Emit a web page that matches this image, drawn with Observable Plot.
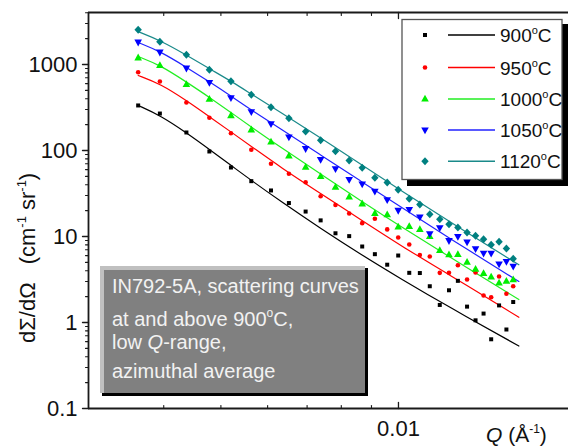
<!DOCTYPE html>
<html><head><meta charset="utf-8">
<script src="https://cdn.jsdelivr.net/npm/d3@7"></script>
<script src="https://cdn.jsdelivr.net/npm/@observablehq/plot@0.6"></script>
<style>html,body{margin:0;padding:0;background:#fff;} #chart{width:568px;height:446px;overflow:hidden;}</style>
</head><body><div id="chart"></div>
<script>
// ---------- data ----------
const Q = [0.00362, 0.00394, 0.00437, 0.00478, 0.0052, 0.00563, 0.00608, 0.00652, 0.00696, 0.00738,
           0.00782, 0.00825, 0.00868, 0.00912, 0.00957, 0.00999, 0.01043, 0.01087, 0.0113, 0.01175,
           0.01218, 0.01261, 0.01307, 0.01351, 0.01394, 0.01436, 0.01481, 0.01524, 0.01565];
const temps = ["900", "950", "1000", "1050", "1120"];
const I900  = [334, 269, 162, 97.4, 63.4, 44.0, 34.3, 24.5, 19.5, 15.4, 10.9, 10.1, 7.65, 6.23, 4.70, 6.01, 3.78, 3.76, 2.64, 1.60, 2.37, 3.05, 1.53, 1.06, 1.27, 0.638, 1.58, 0.829, 1.73];
const I950  = [814, 634, 362, 240, 159, 102, 70.0, 53.6, 42.8, 29.4, 23.2, 18.5, 14.3, 16.1, 12.1, 9.74, 8.07, 6.09, 5.85, 3.78, 3.78, 4.63, 3.16, 3.81, 2.06, 1.97, 3.43, 2.16, 2.64];
const I1000 = [1196, 974, 586, 395, 255, 174, 126, 86.3, 63.9, 49.9, 37.4, 28.9, 24.0, 18.5, 17.9, 12.9, 13.1, 12.1, 10.0, 6.87, 6.14, 6.18, 5.02, 4.16, 3.73, 3.38, 2.89, 3.02, 3.15];
const I1050 = [1817, 1390, 906, 618, 410, 282, 204, 143, 105, 78.6, 61.3, 46.0, 40.8, 33.5, 26.7, 20.1, 20.6, 16.8, 10.75, 12.6, 8.94, 10.0, 8.63, 7.19, 6.38, 6.38, 4.79, 5.12, 4.50];
const I1120 = [2532, 1837, 1297, 868, 639, 444, 319, 237, 166, 132, 98.1, 76.5, 62.9, 48.1, 42.5, 34.9, 27.4, 23.6, 18.2, 15.9, 13.9, 12.7, 11.1, 10.2, 9.30, 8.01, 8.68, 7.25, 5.51];

const Qfit = [0.00362, 0.00395, 0.00437, 0.0048, 0.00523, 0.00568, 0.00631, 0.00738, 0.00862, 0.01008, 0.01225, 0.016];
const fit900  = [334, 255, 161, 101, 65.2, 43.0, 25.7, 12.4, 6.23, 3.24, 1.48, 0.533];
const fit950  = [745, 594, 381, 242, 160, 107, 63.9, 31.6, 15.8, 7.86, 3.52, 1.15];
const fit1000 = [1239, 979, 626, 408, 269, 180, 109, 53.3, 26.2, 13.1, 5.70, 1.85];
const fit1050 = [1802, 1416, 930, 618, 419, 284, 179, 88.7, 44.2, 22.3, 9.35, 3.00];
const fit1120 = [2413, 1902, 1290, 879, 626, 436, 279, 140, 69.7, 34.3, 14.6, 4.69];

const yMajor = [0.1, 1, 10, 100, 1000];
const yMajorLabels = ["0.1", "1", "10", "100", "1000"];
const xMajor = [0.01];
const xMajorLabels = ["0.01"];
const xMinor = [0.004, 0.005, 0.006, 0.007, 0.008, 0.009];
const yMinor = [0.2,0.3,0.4,0.5,0.6,0.7,0.8,0.9, 2,3,4,5,6,7,8,9, 20,30,40,50,60,70,80,90, 200,300,400,500,600,700,800,900, 2000,3000,4000];
const xDomain = [0.002982, 0.01942];
const yDomain = [0.1, 4024];
const noteText = ["IN792-5A, scattering curves", "at and above 900", "low ", "azimuthal average"];

// ---------- styling ----------
const FONT = "'Liberation Sans', Arial, Helvetica, sans-serif";
const markerColors = ["#000000", "#ff0000", "#00ee00", "#0000ff", "#008080"];
const lineColors   = ["#000000", "#ff0000", "#22ee22", "#2222ff", "#1a8a8a"];
const AX = "#1a1a1a";

const symSquare  = {draw(c){ c.rect(-2, -2, 4, 4); }};
const symCircle  = {draw(c){ c.moveTo(2.3, 0); c.arc(0, 0, 2.3, 0, 2 * Math.PI); }};
const symUp      = {draw(c){ c.moveTo(0, -4.2); c.lineTo(3.8, 2.6); c.lineTo(-3.8, 2.6); c.closePath(); }};
const symDown    = {draw(c){ c.moveTo(0, 4.2); c.lineTo(3.8, -2.6); c.lineTo(-3.8, -2.6); c.closePath(); }};
const symDiamond = {draw(c){ c.moveTo(0, -4); c.lineTo(3.7, 0); c.lineTo(0, 4); c.lineTo(-3.7, 0); c.closePath(); }};
const syms = [symSquare, symCircle, symUp, symDown, symDiamond];

const series = [I900, I950, I1000, I1050, I1120];
const fits = [fit900, fit950, fit1000, fit1050, fit1120];
const tickShape = {draw(c, l){ c.moveTo(0, 0); c.lineTo(0, -l); }};

const marks = [];
marks.push(Plot.ruleX([xDomain[0]], {stroke: AX, strokeWidth: 1.8}));
marks.push(Plot.ruleY([yDomain[0], yDomain[1]], {stroke: AX, strokeWidth: 1.8}));
marks.push(Plot.vector(yMajor, {x: () => xDomain[0], y: d => d, length: 6, rotate: -90, anchor: "start", shape: tickShape, stroke: AX, strokeWidth: 1.3}));
marks.push(Plot.vector(yMinor, {x: () => xDomain[0], y: d => d, length: 3, rotate: -90, anchor: "start", shape: tickShape, stroke: AX, strokeWidth: 1.1}));
marks.push(Plot.vector(xMajor, {x: d => d, y: () => yDomain[0], length: 6, rotate: 0, anchor: "start", shape: tickShape, stroke: AX, strokeWidth: 1.3}));
marks.push(Plot.vector(xMinor, {x: d => d, y: () => yDomain[0], length: 3, rotate: 0, anchor: "start", shape: tickShape, stroke: AX, strokeWidth: 1.1}));
marks.push(Plot.vector(xMajor, {x: d => d, y: () => yDomain[1], length: 6, rotate: 180, anchor: "start", shape: tickShape, stroke: AX, strokeWidth: 1.3}));
marks.push(Plot.vector(xMinor, {x: d => d, y: () => yDomain[1], length: 3, rotate: 180, anchor: "start", shape: tickShape, stroke: AX, strokeWidth: 1.1}));
marks.push(Plot.text(yMajor, {x: () => xDomain[0], y: d => d, text: (d, i) => yMajorLabels[i], textAnchor: "end", dx: -11, fontSize: 22, fill: "#111"}));
marks.push(Plot.text(xMajor, {x: d => d, y: () => yDomain[0], text: (d, i) => xMajorLabels[i], textAnchor: "middle", dy: 20, fontSize: 22, fill: "#111"}));
fits.forEach((f, k) => {
  marks.push(Plot.line(Qfit.map((q, i) => ({q, v: f[i]})), {x: "q", y: "v", stroke: lineColors[k], strokeWidth: 1.2, curve: "basis"}));
});
series.forEach((s, k) => {
  marks.push(Plot.dot(Q.map((q, i) => ({q, v: s[i]})), {x: "q", y: "v", symbol: syms[k], r: 3, fill: markerColors[k], stroke: "none"}));
});

const svgEl = Plot.plot({
  width: 568, height: 446,
  marginLeft: 88, marginRight: 0, marginTop: 12, marginBottom: 38,
  x: {type: "log", domain: xDomain, axis: null},
  y: {type: "log", domain: yDomain, axis: null},
  style: {fontFamily: FONT, background: "white", overflow: "visible"},
  marks
});
document.getElementById("chart").appendChild(svgEl);

const svg = d3.select(svgEl);
function txt(parent, x, y, size) {
  return parent.append("text").attr("x", x).attr("y", y).attr("text-anchor", "start")
    .attr("font-family", FONT).attr("font-size", size).attr("fill", "#111");
}

// ---------- y axis label ----------
const yl = svg.append("text").attr("transform", "translate(35,343) rotate(-90)").attr("text-anchor", "start")
  .attr("font-family", FONT).attr("font-size", 22).attr("fill", "#111");
yl.append("tspan").text("dΣ/dΩ");
yl.append("tspan").attr("dx", 18).text("(cm");
yl.append("tspan").attr("dy", -9).attr("font-size", 13).text("-1");
yl.append("tspan").attr("dy", 9).text(" sr");
yl.append("tspan").attr("dy", -9).attr("font-size", 13).text("-1");
yl.append("tspan").attr("dy", 9).text(")");

// ---------- x axis label ----------
const xl = txt(svg, 486, 442, 21);
xl.append("tspan").attr("font-style", "italic").text("Q");
xl.append("tspan").text(" (Å");
xl.append("tspan").attr("dy", -9).attr("font-size", 12).text("-1");
xl.append("tspan").attr("dy", 9).text(")");

// ---------- note box ----------
const nb = svg.append("g");
nb.append("rect").attr("x", 102).attr("y", 268).attr("width", 266).attr("height", 128).attr("fill", "#000");
nb.append("rect").attr("x", 100).attr("y", 266).attr("width", 265).attr("height", 127).attr("fill", "#c0c0c0");
nb.append("rect").attr("x", 104).attr("y", 270).attr("width", 261).attr("height", 123).attr("fill", "#808080");
const noteFill = "#f2f2f2";
const base = [293, 326, 349, 378];
txt(nb, 112, base[0], 20).attr("fill", noteFill).text(noteText[0]);
const t2 = txt(nb, 112, base[1], 20).attr("fill", noteFill);
t2.append("tspan").text(noteText[1]);
t2.append("tspan").attr("dy", -9).attr("font-size", 12).text("o");
t2.append("tspan").attr("dy", 9).text("C,");
const t3 = txt(nb, 112, base[2], 20).attr("fill", noteFill);
t3.append("tspan").text(noteText[2]);
t3.append("tspan").attr("font-style", "italic").text("Q");
t3.append("tspan").text("-range,");
txt(nb, 112, base[3], 20).attr("fill", noteFill).text(noteText[3]);

// ---------- legend ----------
const lg = svg.append("g");
lg.append("rect").attr("x", 407).attr("y", 24).attr("width", 161).attr("height", 162).attr("fill", "#000");
lg.append("rect").attr("x", 402).attr("y", 19.5).attr("width", 160).attr("height", 160).attr("fill", "#fff").attr("stroke", "#555").attr("stroke-width", 1.3);
const rowY = [35, 67.5, 99, 130, 161.3];
temps.forEach((t, k) => {
  const y = rowY[k];
  lg.append("path").attr("d", d3.symbol(syms[k])()).attr("transform", `translate(425,${y})`).attr("fill", markerColors[k]);
  lg.append("line").attr("x1", 448).attr("x2", 495).attr("y1", y).attr("y2", y).attr("stroke", lineColors[k]).attr("stroke-width", 1.4);
  const tx = txt(lg, 500, y + 7, 19);
  tx.append("tspan").text(t);
  tx.append("tspan").attr("dy", -8).attr("font-size", 11).text("o");
  tx.append("tspan").attr("dy", 8).text("C");
});
</script>
</body></html>
